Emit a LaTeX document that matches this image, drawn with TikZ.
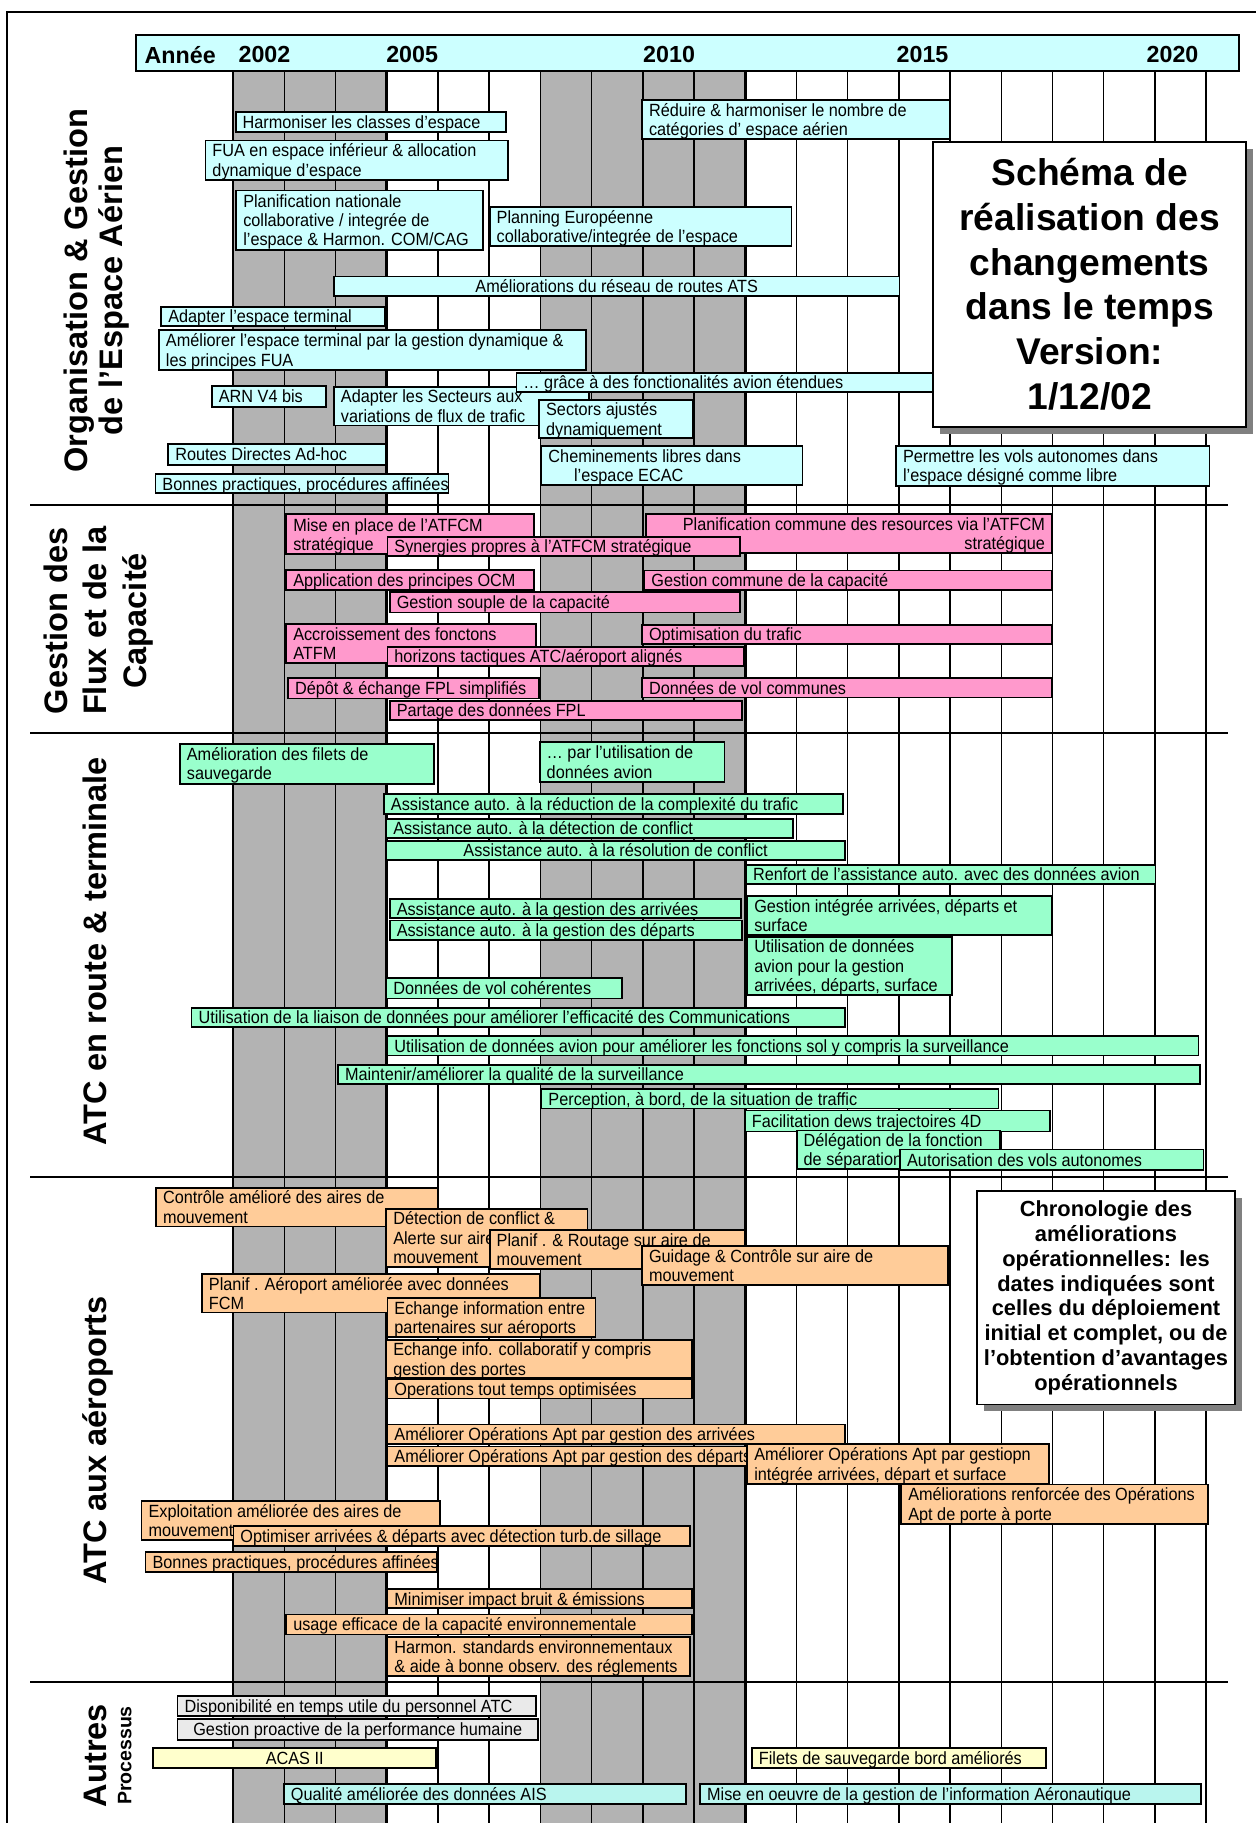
\documentclass[tikz,border=0pt]{standalone}
\usepackage{fontspec}
\setmainfont{Liberation Sans}
\newfontfamily\etroite[FakeStretch=0.92]{Liberation Sans}
\usepackage{tikz}

\definecolor{ciel}{HTML}{CCFFFF}
\definecolor{rose}{HTML}{FF99CC}
\definecolor{menthe}{HTML}{99FFCC}
\definecolor{peche}{HTML}{FFCC99}
\definecolor{bande}{HTML}{B3B3B3}
\definecolor{grisclair}{HTML}{EAEAEA}
\definecolor{jaune}{HTML}{FFFFCC}
\definecolor{turquoise}{HTML}{B9F5EE}
\definecolor{ombre}{HTML}{808080}

\tikzset{
  tache/.style={draw,line width=0.75pt,anchor=north west,inner xsep=3pt,inner ysep=0pt,
    font=\etroite\fontsize{7.6}{8.3}\selectfont},
  grille/.style={line width=0.6pt},
  limite/.style={line width=1.3pt},
  separation/.style={line width=0.9pt},
  rubrique/.style={rotate=90,font=\bfseries\fontsize{14}{15}\selectfont},
  an/.style={font=\bfseries\fontsize{10}{12}\selectfont},
  encadre/.style={draw,fill=white,line width=0.8pt,align=center,inner sep=0pt},
}

% boite de tache : [alignement]{nom}{couleur}{x1}{y1}{x2}{y2}{texte}
\newcommand\tache[8][l]{%
  \pgfmathsetmacro\largeur{(#6-#4)/2-6}%
  \pgfmathsetmacro\hauteur{(#7-#5)/2}%
  \node[tache,fill=#3,minimum height=\hauteur pt] (#2) at (#4,#5)
    {\makebox[\largeur pt][#1]{\raisebox{-1.1pt}[\height][\depth]{\begin{tabular}{@{}#1@{}}#8\end{tabular}}}};}

\begin{document}
\begin{tikzpicture}[x=0.5pt,y=-0.5pt]
\useasboundingbox (0,0) rectangle (1080,1568);

% bandes grises et grille des annees
\fill[bande] (200.5,60) rectangle (332.6,1575);
\fill[bande] (464.8,60) rectangle (641,1575);
\foreach \i in {0,...,19}
  \draw[grille] ({200.5+44.05*\i},60) -- ({200.5+44.05*\i},1575);
\draw[limite] (332.6,60) -- (332.6,1575);
\draw[limite] (641,60) -- (641,1575);

\foreach \y in {434,630.5,1012,1447}
  \draw[separation] (26,\y) -- (1056,\y);
\draw[separation] (6,1575) -- (6,10) -- (1090,10);

% entete
\node[draw,fill=ciel,line width=0.8pt,anchor=north west,minimum width=474.5pt,minimum height=15.5pt] (entete) at (116,29) {};
\node[an] (annee) at (155,47) {Année};
\foreach \an/\x in {2002/227.5,2005/354.5,2010/575.5,2015/793.5,2020/1008.5}
  \node[an] (a\an) at (\x,47) {\an};

% rubriques
\node[rubrique,align=center] (orga) at (83,250) {Organisation \& Gestion\\de l’Espace Aérien};
\node[rubrique,align=center,font=\bfseries\fontsize{14}{17}\selectfont] (flux) at (84.5,534) {Gestion des\\Flux et de la\\Capacité};
\node[rubrique,anchor=base] (enroute) at (92,818) {ATC en route \& terminale};
\node[rubrique,anchor=base] (aeroports) at (92,1239) {ATC aux aéroports};
\node[rubrique,anchor=base] (autres) at (92,1510) {Autres};
\node[rotate=90,anchor=base,font=\bfseries\fontsize{8.4}{10}\selectfont] (processus) at (113,1510) {Processus};

% Organisation & Gestion de l'Espace Aerien
\tache{harmo}{ciel}{202}{95.5}{434.5}{113}{Harmoniser les classes d’espace}
\tache{fua}{ciel}{176}{120}{436}{154}{FUA en espace inférieur \& allocation\\dynamique d’espace}
\tache{planat}{ciel}{202.5}{163}{415}{214}{Planification nationale\\collaborative / integrée de\\l’espace \& Harmon. COM/CAG}
\tache{planeur}{ciel}{420.5}{177}{680}{211}{Planning Européenne\\collaborative/integrée de l’espace}
\tache[c]{reseau}{ciel}{286.5}{237}{773}{252}{Améliorations du réseau de routes ATS}
\tache{terminal}{ciel}{138}{263}{330}{279.5}{Adapter l’espace terminal}
\tache{termdyn}{ciel}{136}{283}{503.5}{317.5}{Améliorer l’espace terminal par la gestion dynamique \&\\les principes FUA}
\tache{arn}{ciel}{181.5}{331.5}{279.5}{349}{ARN V4 bis}
\tache{secteurs}{ciel}{286.5}{332}{506}{363}{Adapter les Secteurs aux\\variations de flux de trafic}
\tache{grace}{ciel}{443.5}{320}{830}{335.5}{… grâce à des fonctionalités avion étendues}
\tache{ajustes}{ciel}{463}{343}{595}{376}{Sectors ajustés\\dynamiquement}
\tache{routes}{ciel}{144}{381}{331}{399}{Routes Directes Ad-hoc}
\tache{bonnes}{ciel}{133}{407}{385}{423}{Bonnes practiques, procédures affinées}
\tache{chemin}{ciel}{465}{383}{689.5}{416.5}{Cheminements libres dans\\\hspace*{11pt}l’espace ECAC}
\tache{autonomes}{ciel}{770}{383}{1039.5}{417}{Permettre les vols autonomes dans\\l’espace désigné comme libre}
\tache{reduire}{ciel}{551.5}{85.5}{816}{119}{Réduire \& harmoniser le nombre de\\catégories d’ espace aérien}

\fill[ombre] (808.5,128) rectangle (1078,373);
\node[encadre,minimum width=134.7pt,minimum height=122.6pt,font=\bfseries\fontsize{16}{19.3}\selectfont] (titre) at (937.3,244.5)
  {Schéma de\\réalisation des\\changements\\dans le temps\\Version:\\1/12/02};

% Gestion des Flux et de la Capacite
\tache{miseplace}{rose}{245.5}{441.5}{458.5}{476}{Mise en place de l’ATFCM\\stratégique}
\tache[r]{plancommune}{rose}{555}{441.5}{904}{473.5}{Planification commune des resources via l’ATFCM\\stratégique}
\tache{synergies}{rose}{332.5}{461}{636}{477}{Synergies propres à l’ATFCM stratégique}
\tache{ocm}{rose}{245.5}{489.5}{458.5}{506.5}{Application des principes OCM}
\tache{gestcommune}{rose}{553.5}{490}{904}{505}{Gestion commune de la capacité}
\tache{souple}{rose}{334.5}{508.5}{636}{526}{Gestion souple de la capacité}
\tache{accroiss}{rose}{245.5}{536}{460}{569}{Accroissement des fonctons\\ATFM}
\tache{optimis}{rose}{551.5}{536.5}{904}{552}{Optimisation du trafic}
\tache{horizons}{rose}{332.5}{555.5}{639}{570.5}{horizons tactiques ATC/aéroport alignés}
\tache{depot}{rose}{247}{582.5}{463}{600}{Dépôt \& échange FPL simplifiés}
\tache{volcomm}{rose}{551.5}{582.5}{904}{598.5}{Données de vol communes}
\tache{partage}{rose}{334.5}{602}{637.5}{618.5}{Partage des données FPL}

% ATC en route & terminale
\tache{filets}{menthe}{154}{639}{372.5}{673.5}{Amélioration des filets de\\sauvegarde}
\tache{paravion}{menthe}{463.5}{637.5}{622.5}{672}{… par l’utilisation de\\données avion}
\tache{complex}{menthe}{329.5}{682}{724.5}{699.5}{Assistance auto. à la réduction de la complexité du trafic}
\tache{detect}{menthe}{331.5}{703.5}{681}{718.5}{Assistance auto. à la détection de conflict}
\tache[c]{resol}{menthe}{331.5}{722.5}{726}{738.5}{Assistance auto. à la résolution de conflict}
\tache{renfort}{menthe}{641}{743}{993}{758}{Renfort de l’assistance auto. avec des données avion}
\tache{arrivees}{menthe}{334.5}{772.5}{636.5}{787}{Assistance auto. à la gestion des arrivées}
\tache{departs}{menthe}{334.5}{791}{637.5}{807.5}{Assistance auto. à la gestion des départs}
\tache{integree}{menthe}{642}{770}{904}{802.5}{Gestion intégrée arrivées, départs et\\surface}
\tache{avionsol}{menthe}{642}{805}{818}{854.5}{Utilisation de données\\avion pour la gestion\\arrivées, départs, surface}
\tache{coherent}{menthe}{331.5}{840.5}{534}{858}{Données de vol cohérentes}
\tache{liaison}{menthe}{164}{866}{726}{882}{Utilisation de la liaison de données pour améliorer l’efficacité des Communications}
\tache{fonctsol}{menthe}{332.5}{890.5}{1030}{906.5}{Utilisation de données avion pour améliorer les fonctions sol y compris la surveillance}
\tache{surveil}{menthe}{290}{915}{1031.5}{930}{Maintenir/améliorer la qualité de la surveillance}
\tache{perception}{menthe}{465}{936}{858}{952}{Perception, à bord, de la situation de traffic}
\tache{traj4d}{menthe}{640}{954.5}{902.5}{972.5}{Facilitation dews trajectoires 4D}
\tache{delegation}{menthe}{684.5}{971.5}{859.5}{1004}{Délégation de la fonction\\de séparation}
\tache{autoris}{menthe}{773.5}{988}{1034.5}{1005.5}{Autorisation des vols autonomes}

% ATC aux aeroports
\tache{aires}{peche}{133.5}{1021}{375.5}{1054}{Contrôle amélioré des aires de\\mouvement}
\tache{detalerte}{peche}{331.5}{1039}{504.5}{1088.5}{Détection de conflict \&\\Alerte sur aire de\\mouvement}
\tache{routage}{peche}{420.5}{1057.5}{639.5}{1089}{Planif . \& Routage sur aire de\\mouvement}
\tache{guidage}{peche}{551.5}{1071}{814.5}{1103.5}{Guidage \& Contrôle sur aire de\\mouvement}
\tache{fcm}{peche}{173}{1095}{463.5}{1128}{Planif . Aéroport améliorée avec données\\FCM}
\tache{echange}{peche}{332.5}{1115.5}{511.5}{1149.5}{Echange information entre\\partenaires sur aéroports}
\tache{portes}{peche}{331.5}{1151.5}{594.5}{1183}{Echange info. collaboratif y compris\\gestion des portes}
\tache{toustemps}{peche}{332.5}{1185.5}{594.5}{1202}{Operations tout temps optimisées}
\tache{aptarr}{peche}{332.5}{1224.5}{726}{1241}{Améliorer Opérations Apt par gestion des arrivées}
\tache{aptdep}{peche}{332.5}{1243.5}{642}{1260}{Améliorer Opérations Apt par gestion des départs}
\tache{aptint}{peche}{642}{1241.5}{901.5}{1275.5}{Améliorer Opérations Apt par gestiopn\\intégrée arrivées, départ et surface}
\tache{porteaporte}{peche}{774.5}{1276}{1038}{1310}{Améliorations renforcée des Opérations\\Apt de porte à porte}
\tache{exploit}{peche}{121}{1290}{378}{1324}{Exploitation améliorée des aires de\\mouvement}
\tache{sillage}{peche}{200}{1312}{593}{1329}{Optimiser arrivées \& départs avec détection turb.de sillage}
\tache{bonnesapt}{peche}{124.5}{1334}{375}{1351.5}{Bonnes practiques, procédures affinées}
\tache{bruit}{peche}{332.5}{1366}{594.5}{1382}{Minimiser impact bruit \& émissions}
\tache{envcap}{peche}{245.5}{1388}{594.5}{1405}{usage efficace de la capacité environnementale}
\tache{standards}{peche}{332.5}{1407.5}{593}{1440}{Harmon. standards environnementaux\\\& aide à bonne observ. des réglements}

\fill[ombre] (846.5,1030.5) rectangle (1068,1214);
\node[encadre,minimum width=110.7pt,minimum height=91.7pt,font=\bfseries\fontsize{9.4}{10.7}\selectfont] (chrono) at (951.3,1116.3)
  {Chronologie des\\améliorations\\opérationnelles: les\\dates indiquées sont\\celles du déploiement\\initial et complet, ou de\\l’obtention d’avantages\\opérationnels};

% Autres Processus
\tache{dispo}{grisclair}{152}{1458}{460}{1475.5}{Disponibilité en temps utile du personnel ATC}
\tache[c]{humaine}{grisclair}{152}{1477.5}{462}{1496}{Gestion proactive de la performance humaine}
\tache[c]{acas}{jaune}{131}{1502.5}{374.5}{1520}{ACAS II}
\tache{filetsbord}{jaune}{646}{1502.5}{899}{1520}{Filets de sauvegarde bord améliorés}
\tache{ais}{turquoise}{243.5}{1534}{589.5}{1549}{Qualité améliorée des données AIS}
\tache{aim}{turquoise}{601.5}{1534}{1032.5}{1549}{Mise en oeuvre de la gestion de l’information Aéronautique}

\end{tikzpicture}
\end{document}
